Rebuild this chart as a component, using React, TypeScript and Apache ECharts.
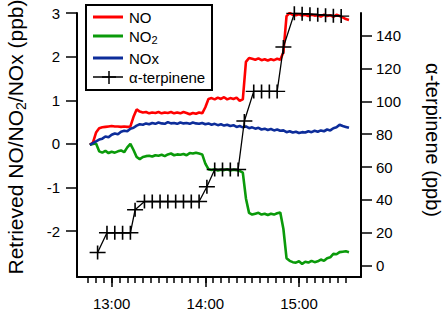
import React, { useEffect, useRef } from "react";
import * as echarts from "echarts";

// Time in minutes since midnight (13:00 = 780)
const times = [
  766, 768, 770, 772, 774, 776, 778, 780, 782, 784, 786, 788, 790, 792, 794, 796, 798, 800, 802, 804,
  806, 808, 810, 812, 814, 816, 818, 820, 822, 824, 826, 828, 830, 832, 834, 836, 838, 840, 842, 844,
  846, 848, 850, 852, 854, 856, 858, 860, 862, 864, 866, 868, 870, 872, 874, 876, 878, 880, 882, 884,
  886, 888, 890, 892, 894, 896, 898, 900, 902, 904, 906, 908, 910, 912, 914, 916, 918, 920, 922, 924,
  926, 928, 930, 932,
];

const noValues = [
  -0.02, 0.03, 0.26, 0.36, 0.38, 0.39, 0.4, 0.41, 0.4, 0.4, 0.39, 0.4, 0.39, 0.4, 0.62, 0.79, 0.74, 0.72, 0.73, 0.7,
  0.72, 0.71, 0.73, 0.7, 0.72, 0.71, 0.73, 0.7, 0.72, 0.7, 0.73, 0.71, 0.68, 0.71, 0.69, 0.72, 0.7, 0.84, 1.03, 1.05,
  1.02, 1.06, 1.03, 1.07, 1.02, 1.05, 1.03, 1.06, 0.99, 1.02, 1.88, 1.97, 1.95, 1.93, 1.96, 1.92, 1.94, 1.91, 1.94, 1.92,
  1.95, 1.93, 2.1, 2.93, 3.0, 2.96, 2.95, 2.97, 2.94, 2.96, 2.93, 2.96, 2.94, 2.95, 2.92, 2.96, 2.93, 2.95, 2.91, 2.96,
  2.93, 2.9, 2.86, 2.84,
];

const no2Values = [
  -0.02, 0.0, 0.01, -0.17, -0.2, -0.16, -0.21, -0.18, -0.2, -0.17, -0.15, -0.19, -0.08, 0.0, -0.14, -0.3, -0.35, -0.3, -0.28, -0.27,
  -0.29, -0.26, -0.27, -0.25, -0.28, -0.24, -0.22, -0.26, -0.24, -0.25, -0.23, -0.26, -0.21, -0.22, -0.2, -0.22, -0.24, -0.45, -0.58, -0.6,
  -0.58, -0.61, -0.59, -0.6, -0.58, -0.61, -0.59, -0.6, -0.62, -0.66, -1.25, -1.58, -1.62, -1.6, -1.58, -1.62, -1.6, -1.63, -1.6, -1.62,
  -1.59, -1.57, -1.95, -2.62, -2.68, -2.71, -2.72, -2.69, -2.75, -2.7, -2.72, -2.68, -2.71, -2.69, -2.65, -2.68, -2.62, -2.6, -2.52, -2.53,
  -2.48, -2.47, -2.46, -2.48,
];

const noxValues = [
  -0.02, 0.02, 0.06, 0.1, 0.12, 0.17, 0.15, 0.21, 0.24, 0.22, 0.28, 0.3, 0.29, 0.35, 0.37, 0.42, 0.45, 0.44, 0.47, 0.45,
  0.48, 0.46, 0.49, 0.47, 0.46, 0.5, 0.47, 0.48, 0.46, 0.49, 0.47, 0.48, 0.46, 0.49, 0.47, 0.46, 0.48, 0.45, 0.47, 0.44,
  0.46, 0.43, 0.45, 0.42, 0.44, 0.41, 0.43, 0.39, 0.41, 0.38, 0.4, 0.36, 0.38, 0.35, 0.37, 0.33, 0.35, 0.32, 0.34, 0.31,
  0.33, 0.3, 0.31, 0.27, 0.29, 0.26, 0.28, 0.25, 0.27, 0.26, 0.29, 0.27, 0.3, 0.28, 0.31, 0.29, 0.33, 0.31, 0.36, 0.38,
  0.44, 0.41, 0.39, 0.37,
];

const terpTimes = [
  771, 777, 782, 787, 792, 795, 801, 806, 811, 816, 821, 826, 831, 836, 841, 846, 851, 856, 861, 865,
  871, 876, 881, 886, 890, 897, 902, 907, 912, 917, 922, 927,
];
const terpValues = [
  8, 20, 20, 20, 20, 34, 39, 39, 39, 39, 39, 39, 39, 39, 48, 58.5, 58.5, 58.5, 58.5, 88,
  106, 106, 106, 106, 133, 153.5, 153.3, 153, 152.7, 152.4, 152.1, 151.8,
];

const xMajorTicks = [780, 840, 900];
const xMinorTicks = [
  765, 770, 775, 780, 785, 790, 795, 800, 805, 810, 815, 820, 825, 830, 835, 840, 845, 850, 855, 860,
  865, 870, 875, 880, 885, 890, 895, 900, 905, 910, 915, 920, 925, 930,
];
const leftTicks = [-2, -1, 0, 1, 2, 3];
const rightTicks = [0, 20, 40, 60, 80, 100, 120, 140];

const FONT = '"Liberation Sans", Arial, sans-serif';
const RED = "#ff0000";
const GREEN = "#0a9a0a";
const BLUE = "#0d2d9a";

const CROSS = "path://M0,9H9V0H11V9H20V11H11V20H9V11H0Z";

export default function App() {
  const ref = useRef<HTMLDivElement>(null);

  useEffect(() => {
    if (!ref.current) return;
    const chart = echarts.init(ref.current, undefined, { renderer: "svg" });
    const fmt = (v: number) => `${Math.floor(v / 60)}:${String(v % 60).padStart(2, "0")}`;
    const axisLineStyle = { color: "#000", width: 2 };
    chart.setOption({
      animation: false,
      backgroundColor: "#fff",
      grid: { left: 77, right: 83, top: 13, bottom: 36 },
      xAxis: [
        {
          type: "value",
          min: 757.8,
          max: 939.7,
          position: "bottom",
          axisLine: { show: true, onZero: false, lineStyle: axisLineStyle },
          axisTick: { show: true, customValues: xMajorTicks, length: 10, lineStyle: { color: "#000", width: 1.5 } },
          axisLabel: {
            customValues: xMajorTicks,
            formatter: fmt,
            color: "#000",
            fontSize: 15,
            fontFamily: FONT,
            margin: 19,
          },
          splitLine: { show: false },
        },
        {
          type: "value",
          min: 757.8,
          max: 939.7,
          position: "bottom",
          axisLine: { show: false, onZero: false },
          axisTick: { show: true, customValues: xMinorTicks, length: 6, lineStyle: { color: "#000", width: 1.5 } },
          axisLabel: { show: false },
          splitLine: { show: false },
        },
      ],
      yAxis: [
        {
          type: "value",
          min: -3.05,
          max: 3,
          position: "left",
          axisLine: { show: true, onZero: false, lineStyle: axisLineStyle },
          axisTick: { show: true, customValues: leftTicks, length: 11, lineStyle: { color: "#000", width: 1.5 } },
          axisLabel: {
            customValues: leftTicks,
            color: "#000",
            fontSize: 15,
            fontFamily: FONT,
            margin: 17,
          },
          splitLine: { show: false },
        },
        {
          type: "value",
          min: -6.9,
          max: 153.7,
          position: "right",
          axisLine: { show: true, onZero: false, lineStyle: axisLineStyle },
          axisTick: { show: true, customValues: rightTicks, length: 11, lineStyle: { color: "#000", width: 1.5 } },
          axisLabel: {
            customValues: rightTicks,
            color: "#000",
            fontSize: 15,
            fontFamily: FONT,
            margin: 15,
          },
          splitLine: { show: false },
        },
      ],
      series: [
        {
          name: "NO",
          type: "line",
          xAxisIndex: 0,
          yAxisIndex: 0,
          data: times.map((t, i) => [t, noValues[i]]),
          symbol: "none",
          lineStyle: { color: RED, width: 2.6 },
          itemStyle: { color: RED },
        },
        {
          name: "NO2",
          type: "line",
          xAxisIndex: 0,
          yAxisIndex: 0,
          data: times.map((t, i) => [t, no2Values[i]]),
          symbol: "none",
          lineStyle: { color: GREEN, width: 2.6 },
          itemStyle: { color: GREEN },
        },
        {
          name: "NOx",
          type: "line",
          xAxisIndex: 0,
          yAxisIndex: 0,
          data: times.map((t, i) => [t, noxValues[i]]),
          symbol: "none",
          lineStyle: { color: BLUE, width: 2.6 },
          itemStyle: { color: BLUE },
        },
        {
          name: "α-terpinene",
          type: "line",
          xAxisIndex: 0,
          yAxisIndex: 1,
          data: terpTimes.map((t, i) => [t, terpValues[i]]),
          symbol: CROSS,
          symbolSize: [16, 14],
          showAllSymbol: true,
          clip: false,
          lineStyle: { color: "#000", width: 1.3 },
          itemStyle: { color: "#000" },
          z: 5,
        },
      ],
      graphic: [
        {
          type: "rect",
          silent: true,
          shape: { x: 86, y: 5, width: 126, height: 85 },
          style: { fill: "#fff", stroke: "#000", lineWidth: 2 },
          z: 10,
        },
        { type: "line", silent: true, z: 11, shape: { x1: 93, y1: 17, x2: 123, y2: 17 }, style: { stroke: RED, lineWidth: 3 } },
        { type: "line", silent: true, z: 11, shape: { x1: 93, y1: 36, x2: 123, y2: 36 }, style: { stroke: GREEN, lineWidth: 3 } },
        { type: "line", silent: true, z: 11, shape: { x1: 93, y1: 58, x2: 123, y2: 58 }, style: { stroke: BLUE, lineWidth: 3 } },
        { type: "line", silent: true, z: 11, shape: { x1: 93, y1: 77, x2: 123, y2: 77 }, style: { stroke: "#000", lineWidth: 1.5 } },
        { type: "line", silent: true, z: 11, shape: { x1: 109, y1: 71, x2: 109, y2: 84 }, style: { stroke: "#000", lineWidth: 1.5 } },
        { type: "line", silent: true, z: 11, shape: { x1: 102, y1: 77, x2: 116, y2: 77 }, style: { stroke: "#000", lineWidth: 1.5 } },
        {
          type: "text",
          silent: true,
          z: 11,
          x: 129,
          y: 17,
          style: { text: "NO", fill: "#000", font: `15px ${FONT}`, align: "left", verticalAlign: "middle", textAlign: "left", textVerticalAlign: "middle" },
        },
        {
          type: "text",
          silent: true,
          z: 11,
          x: 129,
          y: 36,
          style: {
            text: "{a|NO}{s|2}",
            fill: "#000",
            font: `15px ${FONT}`,
            align: "left",
            verticalAlign: "middle",
            textAlign: "left",
            textVerticalAlign: "middle",
            rich: {
              a: { fontSize: 15, fontFamily: FONT, fill: "#000" },
              s: { fontSize: 11, fontFamily: FONT, fill: "#000", padding: [8, 0, 0, 0] },
            },
          },
        },
        {
          type: "text",
          silent: true,
          z: 11,
          x: 129,
          y: 58,
          style: { text: "NOx", fill: "#000", font: `15px ${FONT}`, align: "left", verticalAlign: "middle", textAlign: "left", textVerticalAlign: "middle" },
        },
        {
          type: "text",
          silent: true,
          z: 11,
          x: 129,
          y: 77,
          style: { text: "α-terpinene", fill: "#000", font: `15px ${FONT}`, align: "left", verticalAlign: "middle", textAlign: "left", textVerticalAlign: "middle" },
        },
        {
          type: "text",
          silent: true,
          z: 11,
          x: 15,
          y: 137,
          rotation: Math.PI / 2,
          style: {
            text: "{a|Retrieved NO/NO}{s|2}{a|/NOx (ppb)}",
            fill: "#000",
            font: `21px ${FONT}`,
            align: "center",
            verticalAlign: "middle",
            textAlign: "center",
            textVerticalAlign: "middle",
            rich: {
              a: { fontSize: 21, fontFamily: FONT, fill: "#000" },
              s: { fontSize: 14, fontFamily: FONT, fill: "#000", padding: [11, 0, 0, 0] },
            },
          },
        },
        {
          type: "text",
          silent: true,
          z: 11,
          x: 433,
          y: 140,
          rotation: -Math.PI / 2,
          style: {
            text: "α-terpinene (ppb)",
            fill: "#000",
            font: `20px ${FONT}`,
            align: "center",
            verticalAlign: "middle",
            textAlign: "center",
            textVerticalAlign: "middle",
          },
        },
      ],
    });
    return () => chart.dispose();
  }, []);

  return (
    <div
      ref={ref}
      style={{ position: "fixed", left: 0, top: 0, width: 444, height: 313, background: "#fff" }}
    />
  );
}
